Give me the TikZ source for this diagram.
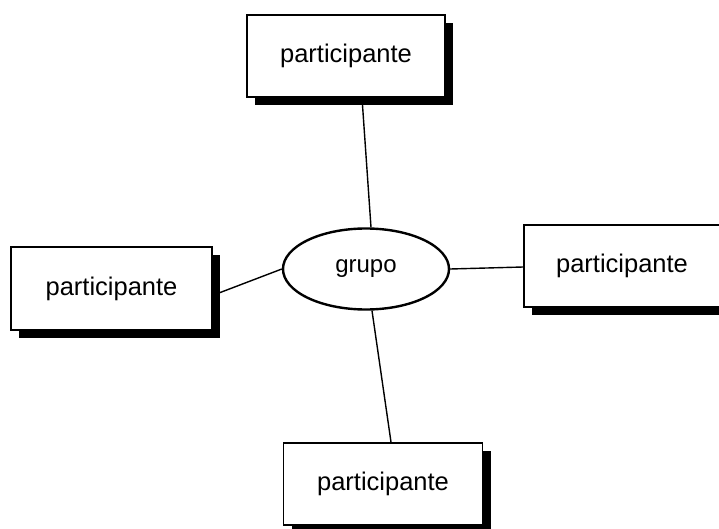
\documentclass[tikz,border=0pt]{standalone}
\usepackage{fontspec}
\setmainfont{Liberation Sans}
\usetikzlibrary{shapes.geometric,shadows}
\tikzset{
  entity/.style={draw=black, line width=1.8pt, fill=white, rectangle,
    minimum width=198pt, minimum height=82pt, inner sep=0pt,
    font=\fontsize{25.5}{30}\selectfont,
    drop shadow={shadow xshift=8pt, shadow yshift=-8pt, opacity=1, fill=black}},
  relation/.style={draw=black, line width=2.4pt, fill=white, ellipse,
    minimum width=166pt, minimum height=81pt, inner sep=0pt,
    font=\fontsize{24}{28}\selectfont},
  link/.style={draw=black, line width=1.4pt}
}
\begin{document}
\begin{tikzpicture}[x=1pt,y=-1pt]
  \useasboundingbox (0,0) rectangle (719,529);
  \clip (0,0) rectangle (719,529);
  \node[entity] (top) at (346,56) {participante};
  \node[entity, minimum width=201pt, minimum height=83pt] (left) at (111.5,288.5) {participante};
  \node[entity, minimum width=196pt] (right) at (622,266) {participante};
  \node[entity, minimum width=199pt] (bottom) at (383,484) {participante};
  \node[relation] (grupo) at (366,269) {grupo};
  \draw[link] ([xshift=16pt]top.south) -- ([xshift=5pt]grupo.north);
  \draw[link] ([xshift=6pt,yshift=-4.5pt]left.east) -- (grupo.west);
  \draw[link] (grupo.east) -- ([yshift=-1pt]right.west);
  \draw[link] ([xshift=6pt]grupo.south) -- ([xshift=8pt]bottom.north);
\end{tikzpicture}
\end{document}
